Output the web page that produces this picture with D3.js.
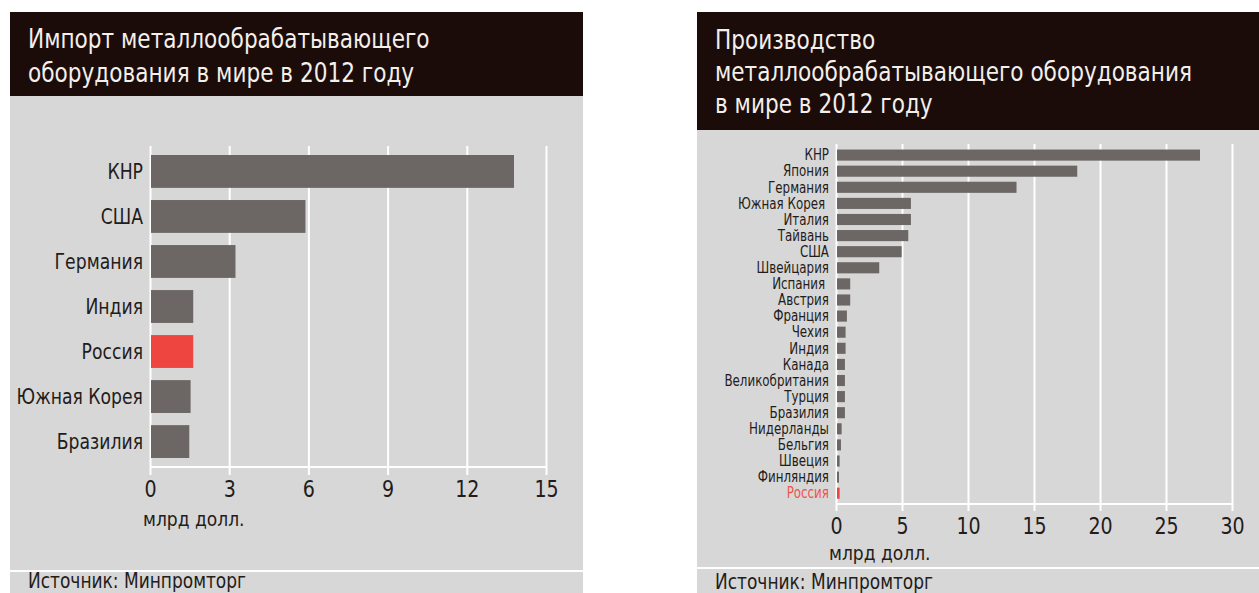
<!DOCTYPE html>
<meta charset="utf-8">
<script src="https://d3js.org/d3.v7.min.js"></script>
<style>
  body { margin: 0; background: #ffffff; }
  svg text { font-family: "Liberation Sans Narrow", "DejaVu Sans Condensed", sans-serif; }
</style>
<div id="chart"></div>
<script>
// import, 2012, bln USD
var importCountries = ["КНР", "США", "Германия", "Индия", "Россия", "Южная Корея", "Бразилия"];
var importValues = [13.75, 5.85, 3.2, 1.6, 1.6, 1.5, 1.45];
var importTicks = [0, 3, 6, 9, 12, 15];

// production, 2012, bln USD
var prodCountries = ["КНР", "Япония", "Германия", "Южная Корея\u00a0", "Италия", "Тайвань", "США",
  "Швейцария", "Испания\u00a0", "Австрия", "Франция", "Чехия", "Индия", "Канада",
  "Великобритания", "Турция", "Бразилия", "Нидерланды", "Бельгия", "Швеция", "Финляндия", "Россия"];
var prodValues = [27.5, 18.2, 13.6, 5.6, 5.6, 5.4, 4.9, 3.2, 1.0, 1.0, 0.75, 0.65, 0.65, 0.6,
  0.6, 0.6, 0.6, 0.35, 0.3, 0.2, 0.15, 0.2];
var prodTicks = [0, 5, 10, 15, 20, 25, 30];

var highlight = "Россия";

var svg = d3.select("#chart").append("svg")
  .attr("width", 1259)
  .attr("height", 593);

// squeeze text horizontally to get the condensed look of the original
function condense(sel, k) {
  sel.each(function() {
    var w = this.getComputedTextLength();
    if (w > 0) d3.select(this).attr("textLength", w * k).attr("lengthAdjust", "spacingAndGlyphs");
  });
}

function panel(o) {
  var g = svg.append("g");
  // background + header
  g.append("rect").attr("x", o.x0).attr("y", o.top).attr("width", o.x1 - o.x0).attr("height", 593 - o.top)
    .attr("fill", "#d7d7d7");
  g.append("rect").attr("x", o.x0).attr("y", o.top).attr("width", o.x1 - o.x0).attr("height", o.headerH)
    .attr("fill", "#1b0c0a");
  o.title.forEach(function(t, i) {
    g.append("text").attr("x", o.x0 + 18).attr("y", o.top + o.titleY0 + i * o.titleStep)
      .attr("fill", "#f3efeb").attr("font-size", o.titleSize).text(t)
      .call(condense, 0.89);
  });

  var x = d3.scaleLinear().domain([0, o.ticks[o.ticks.length - 1]]).range([o.gx0, o.gx1]);
  var y = d3.scaleBand().domain(o.cats).range([o.gy0, o.gy1])
    .paddingInner(o.padIn).paddingOuter(o.padOut);

  // grid lines + small ticks under axis
  g.append("g")
    .attr("transform", "translate(0," + (o.axisY + o.tickLen) + ")")
    .call(d3.axisBottom(x).tickValues(o.ticks).tickSize(-(o.axisY + o.tickLen - o.gridTop)).tickFormat(""))
    .call(function(a) {
      a.select(".domain").remove();
      a.selectAll("line").attr("stroke", "#ffffff").attr("stroke-width", 2);
    });
  g.append("line").attr("x1", x(0)).attr("x2", x(o.ticks[o.ticks.length - 1]))
    .attr("y1", o.axisY).attr("y2", o.axisY).attr("stroke", "#ffffff").attr("stroke-width", 2);

  // tick labels
  g.append("g")
    .attr("transform", "translate(0," + o.axisY + ")")
    .call(d3.axisBottom(x).tickValues(o.ticks).tickSize(0).tickPadding(o.tickPad))
    .call(function(a) {
      a.select(".domain").remove();
      a.selectAll("text").attr("fill", "#231c1a").attr("font-size", o.tickSize)
        .style("font-family", "\"Liberation Sans Narrow\", \"DejaVu Sans Condensed\", sans-serif")
        .call(condense, 0.92);
    });
  g.append("text").attr("x", x(0) - 7).attr("y", o.unitY).attr("fill", "#231c1a")
    .attr("font-size", o.unitSize).text("млрд долл.");

  // bars
  g.selectAll(".bar").data(o.cats).enter().append("rect")
    .attr("x", x(0) + 1)
    .attr("y", function(d) { return y(d); })
    .attr("width", function(d, i) { return x(o.vals[i]) - x(0); })
    .attr("height", y.bandwidth())
    .attr("fill", function(d) { return d === highlight ? "#ee4540" : "#6c6764"; });

  // category labels
  g.selectAll(".lab").data(o.cats).enter().append("text")
    .attr("x", x(0) - 7)
    .attr("y", function(d) { return y(d) + y.bandwidth() / 2; })
    .attr("dy", "0.35em")
    .attr("text-anchor", "end")
    .attr("font-size", o.labelSize)
    .attr("fill", function(d) { return (o.redLabel && d === highlight) ? "#f0524b" : "#231c1a"; })
    .text(function(d) { return d; })
    .call(condense, o.labelK);

  // source
  g.append("line").attr("x1", o.x0).attr("x2", o.x1).attr("y1", o.sepY).attr("y2", o.sepY)
    .attr("stroke", "#ffffff").attr("stroke-width", 2);
  g.append("text").attr("x", o.x0 + 18).attr("y", o.srcY).attr("fill", "#231c1a")
    .attr("font-size", 21).text("Источник: Минпромторг")
    .call(condense, 0.9);
}

panel({
  x0: 10, x1: 583, top: 12, headerH: 84,
  title: ["Импорт металлообрабатывающего", "оборудования в мире в 2012 году"],
  titleY0: 36, titleStep: 34, titleSize: 27,
  cats: importCountries, vals: importValues, ticks: importTicks,
  gx0: 150, gx1: 546, gy0: 150.5, gy1: 462.5, padIn: 0.27, padOut: 0.1,
  gridTop: 146, axisY: 467, tickLen: 8, tickPad: 14, tickSize: 23,
  unitY: 526, unitSize: 19, labelSize: 22, labelK: 0.87, redLabel: false, sepY: 571, srcY: 588
});

panel({
  x0: 697, x1: 1259, top: 12, headerH: 118,
  title: ["Производство", "металлообрабатывающего оборудования", "в мире в 2012 году"],
  titleY0: 37, titleStep: 32, titleSize: 27,
  cats: prodCountries, vals: prodValues, ticks: prodTicks,
  gx0: 836, gx1: 1232, gy0: 144.7, gy1: 503.6, padIn: 0.31, padOut: 0.3,
  gridTop: 144, axisY: 504, tickLen: 7, tickPad: 14, tickSize: 23,
  unitY: 560, unitSize: 19, labelSize: 15, labelK: 0.88, redLabel: true, sepY: 568, srcY: 589
});
</script>
